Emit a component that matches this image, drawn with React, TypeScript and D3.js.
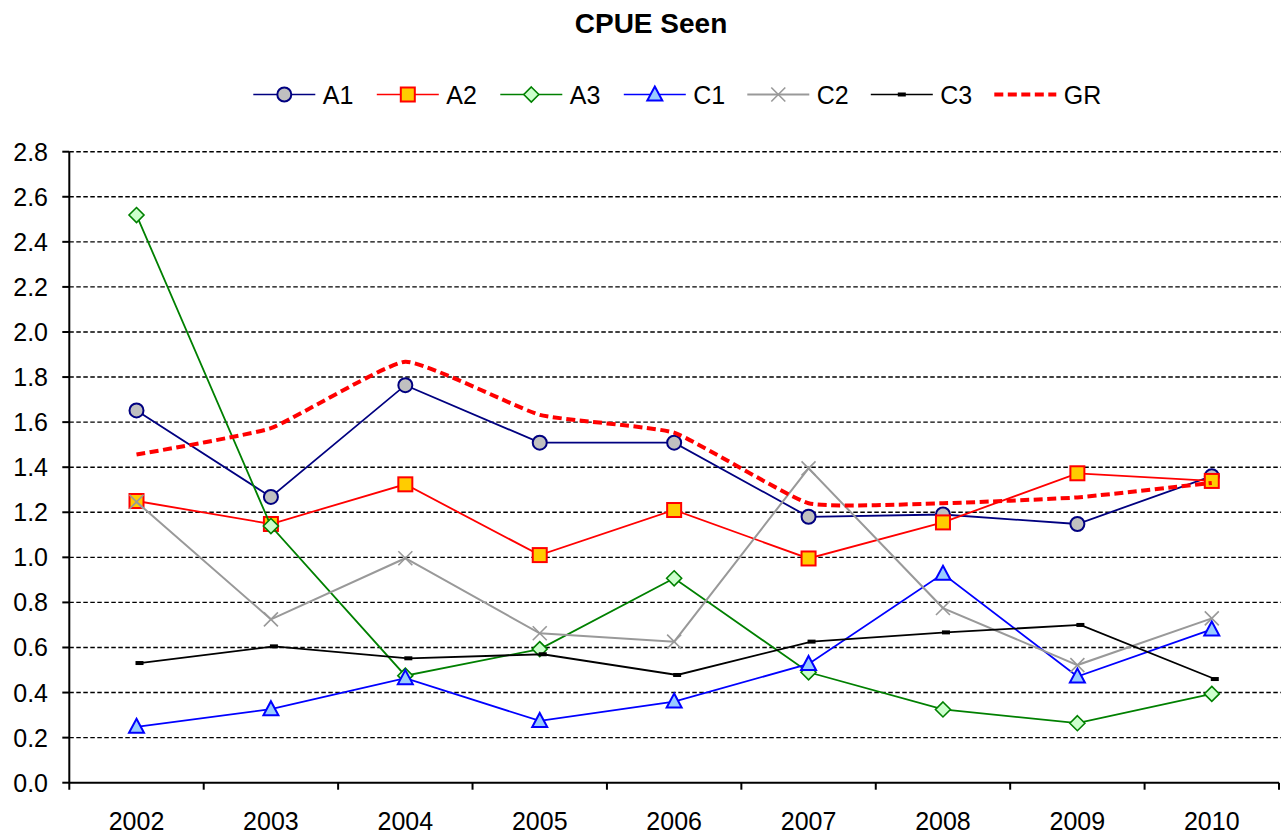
import React from 'react';
import * as d3 from 'd3';

const years = ['2002', '2003', '2004', '2005', '2006', '2007', '2008', '2009', '2010'];
const yTicks = [0, 0.2, 0.4, 0.6, 0.8, 1.0, 1.2, 1.4, 1.6, 1.8, 2.0, 2.2, 2.4, 2.6, 2.8];

const a1 = [1.652, 1.268, 1.764, 1.509, 1.509, 1.180, 1.190, 1.148, 1.360];
const a2 = [1.250, 1.148, 1.324, 1.010, 1.210, 0.995, 1.155, 1.373, 1.339];
const a3 = [2.519, 1.139, 0.475, 0.593, 0.907, 0.490, 0.325, 0.264, 0.394];
const c1 = [0.248, 0.326, 0.464, 0.274, 0.360, 0.527, 0.927, 0.471, 0.680];
const c2 = [1.246, 0.725, 0.996, 0.663, 0.626, 1.395, 0.775, 0.522, 0.729];
const c3 = [0.531, 0.605, 0.552, 0.570, 0.478, 0.626, 0.667, 0.700, 0.460];
const gr = [1.456, 1.573, 1.868, 1.632, 1.553, 1.240, 1.240, 1.266, 1.330];

type Marker = 'circle' | 'square' | 'diamond' | 'triangle' | 'x' | 'dash' | 'none';

const series = [
  { name: 'A1', values: a1, color: '#000080', marker: 'circle' as Marker, fill: '#c0c0c0' },
  { name: 'A2', values: a2, color: '#ff0000', marker: 'square' as Marker, fill: '#ffcc00' },
  { name: 'A3', values: a3, color: '#008000', marker: 'diamond' as Marker, fill: '#ccffcc' },
  { name: 'C1', values: c1, color: '#0000ff', marker: 'triangle' as Marker, fill: '#99ccff' },
  { name: 'C2', values: c2, color: '#999999', marker: 'x' as Marker, fill: 'none' },
  { name: 'C3', values: c3, color: '#000000', marker: 'dash' as Marker, fill: '#000000' },
  { name: 'GR', values: gr, color: '#ff0000', marker: 'none' as Marker, fill: 'none' },
];

const W = 1283;
const H = 836;
const left = 69.3;
const right = 1279;
const top = 151.7;
const bottom = 782.7;
const font = 'Arial, "Liberation Sans", sans-serif';

function MarkerShape({ type, cx, cy, color, fill }: { type: Marker; cx: number; cy: number; color: string; fill: string }) {
  switch (type) {
    case 'circle':
      return <circle cx={cx} cy={cy} r={7} fill={fill} stroke={color} strokeWidth={2} />;
    case 'square':
      return <rect x={cx - 7} y={cy - 7} width={14} height={14} fill={fill} stroke={color} strokeWidth={2} />;
    case 'diamond':
      return <path d={`M${cx},${cy - 7.5}L${cx + 7.5},${cy}L${cx},${cy + 7.5}L${cx - 7.5},${cy}Z`} fill={fill} stroke={color} strokeWidth={1.6} />;
    case 'triangle':
      return <path d={`M${cx},${cy - 8}L${cx + 7.5},${cy + 6}L${cx - 7.5},${cy + 6}Z`} fill={fill} stroke={color} strokeWidth={2} />;
    case 'x':
      return (
        <path d={`M${cx - 7},${cy - 7}L${cx + 7},${cy + 7}M${cx - 7},${cy + 7}L${cx + 7},${cy - 7}`} stroke={color} strokeWidth={1.6} fill="none" />
      );
    case 'dash':
      return <rect x={cx - 4} y={cy - 2} width={8} height={4} fill={color} />;
    default:
      return null;
  }
}

export default function App() {
  const x = d3.scaleBand<string>().domain(years).range([left, right]);
  const y = d3.scaleLinear().domain([0, 2.8]).range([bottom, top]);
  const cx = (yr: string) => (x(yr) as number) + x.bandwidth() / 2;

  const straight = d3.line<[number, number]>().x(d => d[0]).y(d => d[1]);
  // tighter smoothing than catmull-rom, closer to the spreadsheet's look
  const smooth = d3.line<[number, number]>().x(d => d[0]).y(d => d[1]).curve(d3.curveCardinal.tension(0.6));

  const legendStart = 253.3;
  const legendStep = 123.5;
  const legendY = 94.5;

  return (
    <div style={{ position: 'absolute', left: 0, top: 0 }}>
      <svg width={W} height={H} style={{ display: 'block', background: '#fff' }} fontFamily={font}>
        <text x={651} y={33} textAnchor="middle" fontSize={28} fontWeight="bold" fill="#000">CPUE Seen</text>

        {/* legend */}
        {series.map((s, i) => {
          const lx = legendStart + i * legendStep;
          const isGR = s.name === 'GR';
          return (
            <g key={s.name}>
              <line
                x1={lx}
                x2={lx + 62}
                y1={legendY}
                y2={legendY}
                stroke={s.color}
                strokeWidth={isGR ? 4 : s.name === 'C2' ? 2 : 1.6}
                strokeDasharray={isGR ? '9,4.5' : undefined}
              />
              <MarkerShape type={s.marker} cx={lx + 31} cy={legendY} color={s.color} fill={s.fill} />
              <text x={lx + 69.5} y={legendY + 9} fontSize={25} fill="#000">{s.name}</text>
            </g>
          );
        })}

        {/* gridlines */}
        {yTicks.filter(t => t > 0).map(t => (
          <line key={t} x1={left} x2={1281} y1={y(t)} y2={y(t)} stroke="#000" strokeWidth={1.4} strokeDasharray="4.5,2.5" />
        ))}

        {/* y axis */}
        <line x1={left} x2={left} y1={top} y2={bottom + 7} stroke="#000" strokeWidth={2} />
        {yTicks.map(t => (
          <g key={'yt' + t}>
            <line x1={left - 7} x2={left} y1={y(t)} y2={y(t)} stroke="#000" strokeWidth={2} />
            <text x={48} y={y(t)} dy="0.36em" textAnchor="end" fontSize={25} fill="#000">{t.toFixed(1)}</text>
          </g>
        ))}

        {/* x axis */}
        <line x1={left} x2={right} y1={bottom} y2={bottom} stroke="#000" strokeWidth={2} />
        {years.map(yr => (
          <line key={'xt' + yr} x1={(x(yr) as number) + x.bandwidth()} x2={(x(yr) as number) + x.bandwidth()} y1={bottom} y2={bottom + 7} stroke="#000" strokeWidth={2} />
        ))}
        {years.map(yr => (
          <text key={'xl' + yr} x={cx(yr)} y={830} textAnchor="middle" fontSize={25} fill="#000">{yr}</text>
        ))}

        {/* series */}
        {series.map(s => {
          const off = s.name === 'C3' ? 3 : 0;
          const pts: [number, number][] = s.values.map((v, i) => [cx(years[i]) + off, y(v)]);
          const isGR = s.name === 'GR';
          return (
            <g key={'s' + s.name}>
              <path
                d={(isGR ? smooth : straight)(pts) as string}
                fill="none"
                stroke={s.color}
                strokeWidth={isGR ? 4 : s.name === 'C2' ? 2 : 1.8}
                strokeDasharray={isGR ? '9,4.5' : undefined}
              />
              {pts.map((p, i) => (
                <MarkerShape key={i} type={s.marker} cx={p[0]} cy={p[1]} color={s.color} fill={s.fill} />
              ))}
            </g>
          );
        })}
      </svg>
    </div>
  );
}
